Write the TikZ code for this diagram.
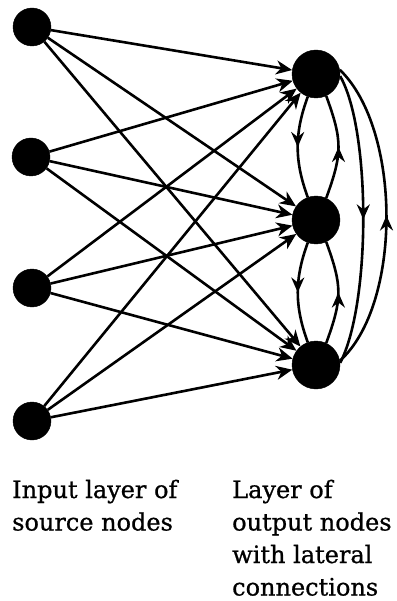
\documentclass[tikz,border=0pt]{standalone}
\usepackage{fontspec}
\setmainfont[FakeBold=0.8]{DejaVu Serif}
\usetikzlibrary{arrows.meta,decorations.markings}
\tikzset{
  innode/.style={circle,fill=black,draw=black,minimum size=38pt,inner sep=0pt},
  outnode/.style={circle,fill=black,draw=black,minimum size=48pt,inner sep=0pt},
  conn/.style={line width=2.6pt,-{Stealth[length=16pt,width=14pt,inset=5pt]},shorten >=0pt},
  lat/.style={line width=2.6pt,postaction={decorate},
    decoration={markings,mark=at position 0.5 with {\arrow{Stealth[length=15pt,width=13pt,inset=5pt]}}}},
  lbl/.style={anchor=base west,font=\fontsize{24pt}{32.5pt}\selectfont,inner sep=0pt}
}
\begin{document}
\begin{tikzpicture}[x=1pt,y=-1pt]
\useasboundingbox (0,0) rectangle (396,601);
\node[innode] (i1) at (32,27) {};
\node[innode] (i2) at (31,157) {};
\node[innode] (i3) at (32,288) {};
\node[innode] (i4) at (32,421) {};
\node[outnode] (o1) at (316,74) {};
\node[outnode] (o2) at (316,220) {};
\node[outnode] (o3) at (316,365) {};
\foreach \i in {i1,i2,i3,i4}{
  \foreach \o in {o1,o2,o3}{
    \draw[conn] (\i) -- (\o);
  }
}
% lateral connections
\draw[lat] (o1.250) to[out=250,in=110] (o2.110);
\draw[lat] (o2.65) to[out=70,in=290,looseness=1.2] (o1.295);
\draw[lat] (o2.250) to[out=250,in=110] (o3.110);
\draw[lat] (o3.65) to[out=70,in=290,looseness=1.2] (o2.295);
\draw[lat] (o1.355) .. controls (371,130) and (371,304) .. (o3.5);
\draw[lat] (o3.10) .. controls (402,305) and (402,130) .. (o1.10);
\node[lbl] (t1a) at (12,498) {Input layer of};
\node[lbl] (t1b) at (12,530.5) {source nodes};
\node[lbl] (t2a) at (232,498) {Layer of};
\node[lbl] (t2b) at (232,530.5) {output nodes};
\node[lbl] (t2c) at (232,563) {with lateral};
\node[lbl] (t2d) at (232,595.5) {connections};
\end{tikzpicture}
\end{document}
